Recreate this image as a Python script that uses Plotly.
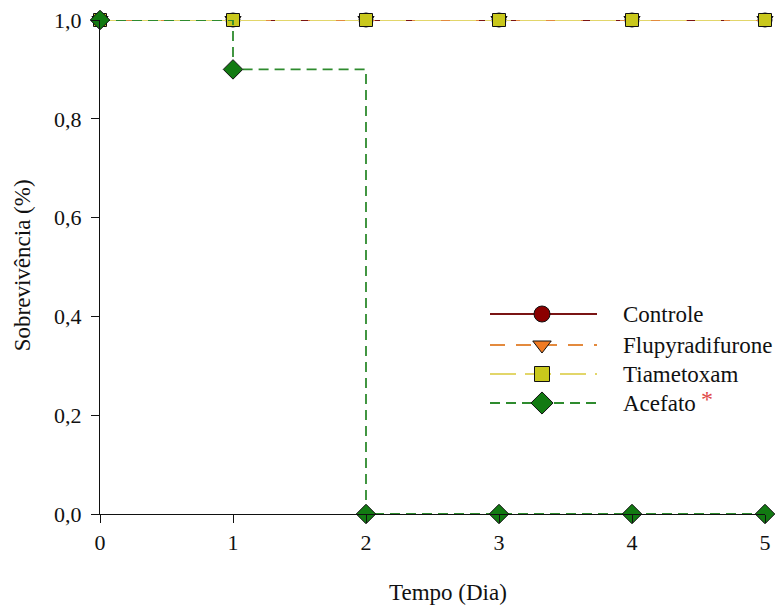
import plotly.graph_objects as go

days = [0, 1, 2, 3, 4, 5]
controle = [1.0, 1.0, 1.0, 1.0, 1.0, 1.0]
flupyradifurone = [1.0, 1.0, 1.0, 1.0, 1.0, 1.0]
tiametoxam = [1.0, 1.0, 1.0, 1.0, 1.0, 1.0]
acefato = [1.0, 0.9, 0.0, 0.0, 0.0, 0.0]
names = ["Controle", "Flupyradifurone", "Tiametoxam", "Acefato"]
y_ticks = [0.0, 0.2, 0.4, 0.6, 0.8, 1.0]
y_ticktext = ["0,0", "0,2", "0,4", "0,6", "0,8", "1,0"]
x_ticks = [0, 1, 2, 3, 4, 5]

styles = [
    dict(lc="#7a1414", mc="#8b0000", sym="circle", dash="solid", size=14),
    dict(lc="#e38a3e", mc="#f07a22", sym="triangle-down", dash="15px,11px", size=14),
    dict(lc="#e2d66a", mc="#c9c81c", sym="square", dash="26px,9px", size=13),
    dict(lc="#2e8b2e", mc="#127a12", sym="diamond", dash="10px,6px", size=15),
]
series = [controle, flupyradifurone, tiametoxam, acefato]

FONT = "Liberation Serif, Times New Roman, serif"
fig = go.Figure()

for nm, ys, st in zip(names, series, styles):
    fig.add_trace(go.Scatter(
        x=days, y=ys, name=nm, mode="lines+markers", line_shape="hv",
        line=dict(color=st["lc"], width=1.8, dash=st["dash"]),
        marker=dict(symbol=st["sym"], size=st["size"], color=st["mc"],
                    line=dict(color="#111111", width=1)),
        cliponaxis=False, showlegend=False,
    ))

# custom legend drawn on an overlay axis in pixel-like units
leg_y = [314, 345, 374, 403]
for nm, st, ly in zip(names, styles, leg_y):
    fig.add_trace(go.Scatter(
        x=[490, 597], y=[ly, ly], mode="lines", xaxis="x2", yaxis="y2",
        line=dict(color=st["lc"], width=1.8, dash=st["dash"]),
        showlegend=False, hoverinfo="skip", cliponaxis=False,
    ))
    fig.add_trace(go.Scatter(
        x=[542], y=[ly], mode="markers", xaxis="x2", yaxis="y2",
        marker=dict(symbol=st["sym"], size=st["size"] + 2, color=st["mc"],
                    line=dict(color="#111111", width=1)),
        showlegend=False, hoverinfo="skip", cliponaxis=False,
    ))
    fig.add_annotation(x=621, y=ly, xref="x2", yref="y2", text=nm,
                       showarrow=False, xanchor="left", yanchor="middle",
                       font=dict(family=FONT, size=23, color="#111111"))
fig.add_annotation(x=707, y=399, xref="x2", yref="y2", text="*",
                   showarrow=False, xanchor="center", yanchor="middle",
                   font=dict(family=FONT, size=24, color="#e04848"))

# axis titles (paper coordinates)
fig.add_annotation(x=-0.117, y=0.504, xref="paper", yref="paper", text="Sobrevivência (%)",
                   textangle=-90, showarrow=False, xanchor="center", yanchor="middle",
                   font=dict(family=FONT, size=23, color="#111111"))
fig.add_annotation(x=0.523, y=-0.158, xref="paper", yref="paper", text="Tempo (Dia)",
                   showarrow=False, xanchor="center", yanchor="middle",
                   font=dict(family=FONT, size=23, color="#111111"))

fig.update_layout(
    width=776, height=597,
    margin=dict(l=92, r=19, t=12, b=91, autoexpand=False),
    plot_bgcolor="white", paper_bgcolor="white",
    font=dict(family=FONT, size=22, color="#111111"),
    xaxis=dict(range=[0, 5], tickvals=x_ticks, showgrid=False, zeroline=False,
               showline=True, linecolor="#111111", linewidth=1.2,
               ticks="outside", ticklen=8, tickcolor="#111111",
               ticklabeloverflow="allow", automargin=False,
               tickfont=dict(family=FONT, size=22)),
    yaxis=dict(range=[0, 1], tickvals=y_ticks, ticktext=y_ticktext, showgrid=False,
               zeroline=False, showline=True, linecolor="#111111", linewidth=1.2,
               ticks="outside", ticklen=8, tickcolor="#111111",
               ticklabeloverflow="allow", ticklabelstandoff=5, automargin=False,
               tickfont=dict(family=FONT, size=22)),
    xaxis2=dict(range=[100, 765], overlaying="x", visible=False, fixedrange=True),
    yaxis2=dict(range=[514, 20], overlaying="y", visible=False, fixedrange=True),
)

fig.write_html("out.html")
